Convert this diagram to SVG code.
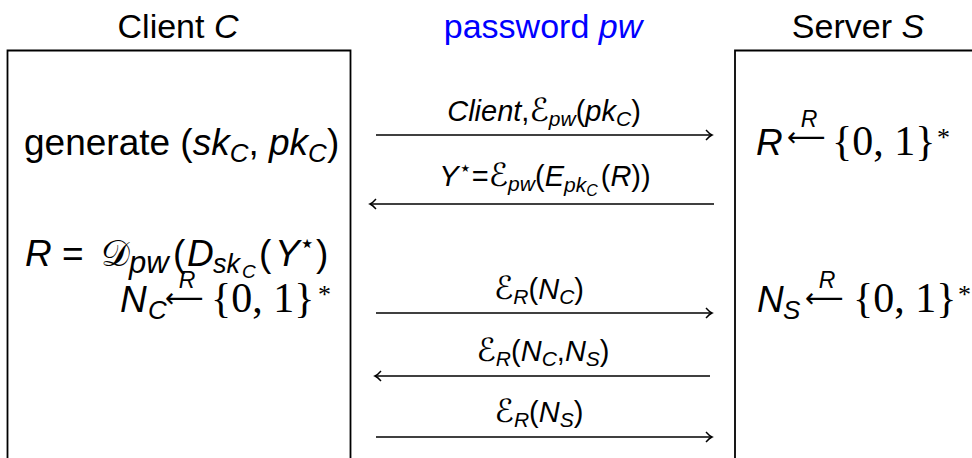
<svg xmlns="http://www.w3.org/2000/svg" width="972" height="458" viewBox="0 0 972 458">
<defs>
<style>
text{font-family:"Liberation Sans","DejaVu Sans",sans-serif;fill:#000}
.title{font-size:34px}
.big{font-size:37px}
.lbl{font-size:29px}
.i{font-style:italic}
.rm{font-family:"Liberation Serif","DejaVu Serif",serif;font-style:normal}
.cal{font-family:"DejaVu Sans","DejaVu Serif",sans-serif;font-style:normal}
.lc{font-size:32px}
.ar{font-family:"DejaVu Sans",sans-serif;font-style:normal;font-size:27px}
.box{fill:none;stroke:#000;stroke-width:1.8}
.arr{fill:none;stroke:#000;stroke-width:1.5;marker-end:url(#ah)}
</style>
<marker id="ah" markerWidth="12" markerHeight="12" refX="10" refY="6" orient="auto" markerUnits="userSpaceOnUse">
<path d="M4 1 Q7.5 5 10 6 Q7.5 7 4 11" fill="none" stroke="#000" stroke-width="1.4"/>
</marker>
</defs>

<g id="client">
<text class="title" x="178" y="38" text-anchor="middle">Client <tspan class="i">C</tspan></text>
<path class="box" d="M7.5 460 V50.5 H350.5 V460"/>
<text class="big" x="24" y="155">generate (<tspan class="i">sk</tspan><tspan class="i" font-size="26" dy="7">C</tspan><tspan dy="-7">, </tspan><tspan class="i">pk</tspan><tspan class="i" font-size="26" dy="7">C</tspan><tspan dy="-7">)</tspan></text>
<text class="big" x="25" y="266"><tspan class="i">R</tspan><tspan x="62">=</tspan><tspan class="cal" x="101" font-size="36">𝒟</tspan><tspan class="i" x="129" font-size="31" dy="7">pw</tspan><tspan x="173" dy="-7">(</tspan><tspan class="i" x="187">D</tspan><tspan class="i" x="213" font-size="27" dy="7">sk</tspan><tspan class="i" x="242" font-size="19" dy="5">C</tspan><tspan x="259" dy="-12">(</tspan><tspan class="i" x="275">Y</tspan><tspan x="299" font-size="26" dy="-14">⋆</tspan><tspan x="316" dy="14">)</tspan></text>
<text class="big" x="120" y="312"><tspan class="i">N</tspan><tspan class="i" x="148" font-size="26" dy="7">C</tspan><tspan class="ar" x="165" dy="-12">⟵</tspan><tspan class="i" x="187" y="288" font-size="23" text-anchor="middle">R</tspan><tspan class="rm" x="211" y="312" font-size="42">{0, 1}</tspan><tspan class="rm" x="318" y="303" font-size="26">*</tspan></text>
</g>

<g id="password">
<text class="title" x="543" y="38" text-anchor="middle" style="fill:#0000ff">password <tspan class="i">pw</tspan></text>
</g>

<g id="server">
<text class="title" x="858" y="38" text-anchor="middle">Server <tspan class="i">S</tspan></text>
<path class="box" d="M735 460 V50.5 H975"/>
<text class="big" x="756" y="155"><tspan class="i">R</tspan><tspan class="ar" x="787" dy="-9">⟵</tspan><tspan class="i" x="809" y="127" font-size="23" text-anchor="middle">R</tspan><tspan class="rm" x="832" y="155" font-size="42">{0, 1}</tspan><tspan class="rm" x="937" y="146" font-size="26">*</tspan></text>
<text class="big" x="757" y="312"><tspan class="i">N</tspan><tspan class="i" x="783" font-size="26" dy="7">S</tspan><tspan class="ar" x="805" dy="-12">⟵</tspan><tspan class="i" x="827" y="288" font-size="23" text-anchor="middle">R</tspan><tspan class="rm" x="853" y="312" font-size="42">{0, 1}</tspan><tspan class="rm" x="958" y="303" font-size="26">*</tspan></text>
</g>

<g id="connectors">
<line class="arr" x1="376" y1="135" x2="712" y2="135"/>
<text class="lbl" x="544" y="121" text-anchor="middle"><tspan class="i">Client</tspan>,<tspan class="cal lc">ℰ</tspan><tspan class="i" font-size="21" dy="5">pw</tspan><tspan dy="-5">(</tspan><tspan class="i">pk</tspan><tspan class="i" font-size="21" dy="5">C</tspan><tspan dy="-5">)</tspan></text>

<line class="arr" x1="714" y1="204" x2="370" y2="204"/>
<text class="lbl" x="545" y="186" text-anchor="middle"><tspan class="i">Y</tspan><tspan font-size="21" dy="-11">⋆</tspan><tspan dy="11">=</tspan><tspan class="cal lc">ℰ</tspan><tspan class="i" font-size="21" dy="5">pw</tspan><tspan dy="-5">(</tspan><tspan class="i">E</tspan><tspan class="i" font-size="21" dy="6">pk</tspan><tspan class="i" font-size="16" dy="4">C</tspan><tspan dx="3" dy="-10">(</tspan><tspan class="i">R</tspan>))</text>

<line class="arr" x1="376" y1="313" x2="712" y2="313"/>
<text class="lbl" x="539" y="299" text-anchor="middle"><tspan class="cal lc">ℰ</tspan><tspan class="i" font-size="21" dy="5">R</tspan><tspan dy="-5">(</tspan><tspan class="i">N</tspan><tspan class="i" font-size="21" dy="5">C</tspan><tspan dy="-5">)</tspan></text>

<line class="arr" x1="710" y1="376" x2="375" y2="376"/>
<text class="lbl" x="543" y="361" text-anchor="middle"><tspan class="cal lc">ℰ</tspan><tspan class="i" font-size="21" dy="5">R</tspan><tspan dy="-5">(</tspan><tspan class="i">N</tspan><tspan class="i" font-size="21" dy="5">C</tspan><tspan dy="-5">,</tspan><tspan class="i">N</tspan><tspan class="i" font-size="21" dy="5">S</tspan><tspan dy="-5">)</tspan></text>

<line class="arr" x1="376" y1="437" x2="712" y2="437"/>
<text class="lbl" x="539" y="422" text-anchor="middle"><tspan class="cal lc">ℰ</tspan><tspan class="i" font-size="21" dy="5">R</tspan><tspan dy="-5">(</tspan><tspan class="i">N</tspan><tspan class="i" font-size="21" dy="5">S</tspan><tspan dy="-5">)</tspan></text>
</g>
</svg>
